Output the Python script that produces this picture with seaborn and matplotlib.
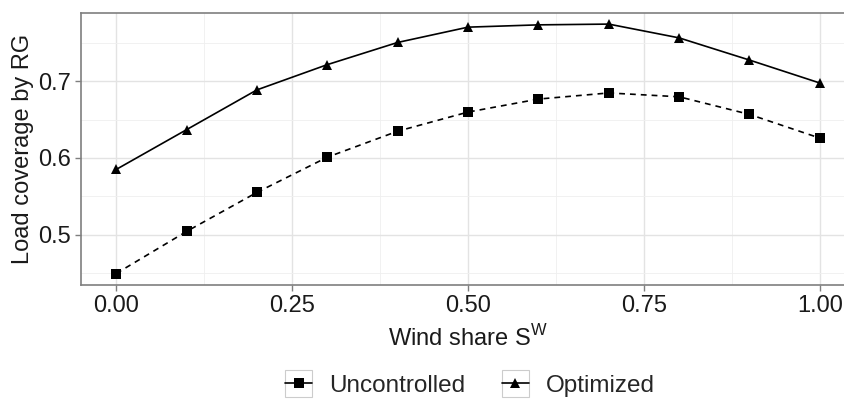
import numpy as np
import pandas as pd
import matplotlib
matplotlib.use("Agg")
import matplotlib.pyplot as plt
import seaborn as sns
from matplotlib.legend_handler import HandlerLine2D
from matplotlib.patches import Rectangle
from matplotlib.lines import Line2D
from matplotlib.ticker import MultipleLocator

wind_share = [0.0, 0.1, 0.2, 0.3, 0.4, 0.5, 0.6, 0.7, 0.8, 0.9, 1.0]
uncontrolled = [0.449, 0.504, 0.555, 0.601, 0.635, 0.660, 0.677, 0.685, 0.680, 0.657, 0.626]
optimized = [0.585, 0.637, 0.689, 0.722, 0.751, 0.771, 0.774, 0.775, 0.757, 0.728, 0.698]
series_names = ["Uncontrolled", "Optimized"]
x_ticks = [0.0, 0.25, 0.5, 0.75, 1.0]
x_ticklabels = ["0.00", "0.25", "0.50", "0.75", "1.00"]
y_ticks = [0.5, 0.6, 0.7]

df = pd.DataFrame({
    "x": wind_share * 2,
    "y": uncontrolled + optimized,
    "Series": [series_names[0]] * len(wind_share) + [series_names[1]] * len(wind_share),
})

sns.set_theme(style="white")
plt.rcParams["font.family"] = ["Liberation Sans", "DejaVu Sans"]
plt.rcParams["mathtext.fontset"] = "custom"
plt.rcParams["mathtext.rm"] = "Liberation Sans"

fig = plt.figure(figsize=(8.44, 3.99), dpi=100)
ax = fig.add_axes([81 / 844, 1 - 285 / 399, (855 - 81) / 844, (285 - 13) / 399])

sns.lineplot(data=df, x="x", y="y", style="Series", color="black",
             markers={"Uncontrolled": "s", "Optimized": "^"},
             dashes={"Uncontrolled": (3.5, 3), "Optimized": ""},
             markersize=7.5, markeredgewidth=0, linewidth=1.2, ax=ax, legend=False)

ax.set_xlim(-0.05, 1.05)
ax.set_ylim(0.434, 0.7895)
ax.set_xticks(x_ticks)
ax.set_xticklabels(x_ticklabels)
ax.set_yticks(y_ticks)
ax.xaxis.set_minor_locator(MultipleLocator(0.125))
ax.yaxis.set_minor_locator(MultipleLocator(0.05))
ax.grid(True, which="major", color="#e3e3e3", linewidth=1.0)
ax.grid(True, which="minor", color="#efefef", linewidth=0.6)
ax.set_axisbelow(True)
for s in ax.spines.values():
    s.set_color("#7f7f7f")
    s.set_linewidth(1.2)
ax.tick_params(axis="both", which="major", length=4, width=1.0, color="#7f7f7f",
               labelsize=17, labelcolor="#1a1a1a", pad=3, bottom=True, left=True)
ax.tick_params(axis="both", which="minor", length=0)
ax.set_xlabel(r"Wind share S$^{\mathregular{W}}$", fontsize=17, color="#1a1a1a", labelpad=6)
ax.set_ylabel("Load coverage by RG", fontsize=17, color="#1a1a1a", labelpad=3)


class BoxedHandler(HandlerLine2D):
    def create_artists(self, legend, orig_handle, xdescent, ydescent, width, height, fontsize, trans):
        arts = super().create_artists(legend, orig_handle, xdescent, ydescent, width, height, fontsize, trans)
        rect = Rectangle((-xdescent, -ydescent - (width - height) / 2), width, width,
                         facecolor="white", edgecolor="#cccccc", linewidth=0.8, transform=trans)
        return [rect] + list(arts)


h_unc = Line2D([], [], color="black", linestyle="-", linewidth=1.2, marker="s", markersize=6.5, markeredgewidth=0)
h_opt = Line2D([], [], color="black", linestyle="-", linewidth=1.2, marker="^", markersize=7.5, markeredgewidth=0)
fig.legend([h_unc, h_opt], series_names, loc="center", bbox_to_anchor=(470 / 844, 1 - 386 / 399),
           ncol=2, frameon=False, fontsize=17.5, handlelength=1.1, handletextpad=0.7, columnspacing=1.5,
           handler_map={h_unc: BoxedHandler(), h_opt: BoxedHandler()})

fig.savefig("out.png", dpi=100, facecolor="white")
